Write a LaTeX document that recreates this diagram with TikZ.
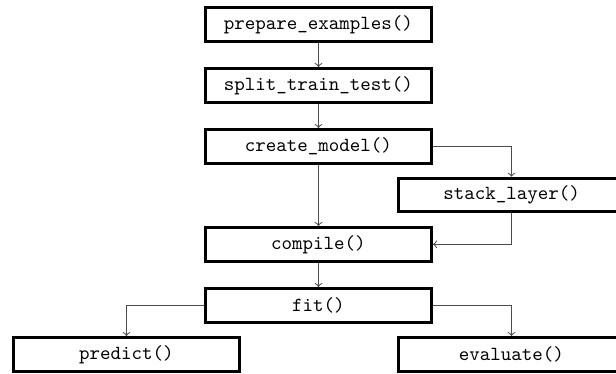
\documentclass[tikz,border=0pt]{standalone}
\usetikzlibrary{positioning}

\tikzset{
  func/.style={draw,line width=1.5pt,minimum width=113pt,minimum height=16.8pt,
    inner sep=0pt,font=\ttfamily},
  flow/.style={->,draw=black!70,line width=0.5pt}
}

\begin{document}
\begin{tikzpicture}[node distance=12.2pt]
\useasboundingbox (-159.25pt,12.15pt) rectangle (148.75pt,-174.85pt);

% Main chain of calls.
\node[func] (prep) at (0,0) {prepare\_examples()};
\node[func,below=of prep] (split) {split\_train\_test()};
\node[func,below=of split] (create) {create\_model()};
\node[func,below=30.7pt of create] (compile) {compile()};
\node[func,below=of compile] (fit) {fit()};

% Side branches.
\node[func] (stack) at (96.5pt,-85.35pt) {stack\_layer()};
\node[func,below=6.2pt of fit,xshift=-96pt] (predict) {predict()};
\node[func,below=6.2pt of fit,xshift=96.5pt] (evaluate) {evaluate()};

\draw[flow] (prep) -- (split);
\draw[flow] (split) -- (create);
\draw[flow] (create) -- (compile);
\draw[flow] (compile) -- (fit);

\draw[flow] (create.east) -| (stack.north);
\draw[flow] (stack.south) |- (compile.east);

\draw[flow] (fit.west) -| (predict.north);
\draw[flow] (fit.east) -| (evaluate.north);

\end{tikzpicture}
\end{document}
